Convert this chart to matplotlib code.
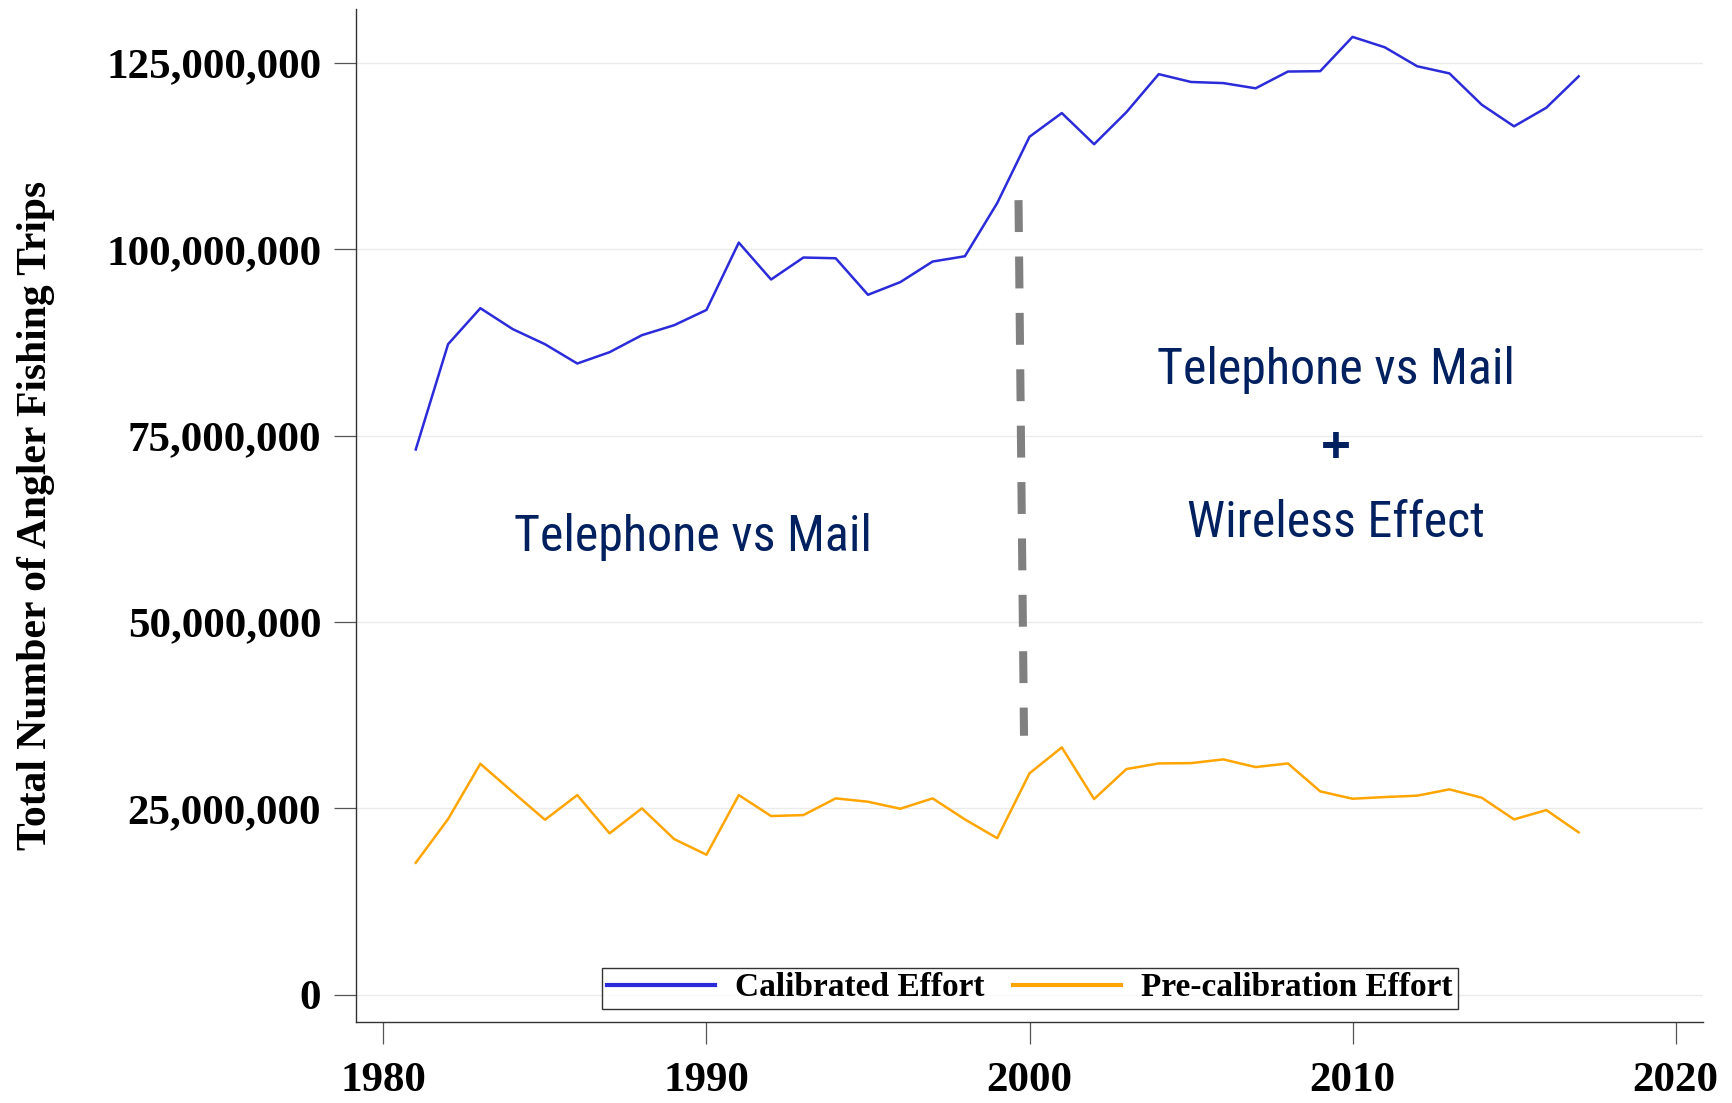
import matplotlib
matplotlib.use("Agg")
import matplotlib.pyplot as plt
from matplotlib import font_manager as fm
from matplotlib.ticker import FuncFormatter

# ---------------- data ----------------
years = list(range(1981, 2018))
calibrated_effort = [
    73.15e6, 87.27e6, 92.10e6, 89.30e6, 87.27e6, 84.68e6, 86.20e6, 88.48e6,
    89.82e6, 91.87e6, 100.90e6, 95.95e6, 98.90e6, 98.80e6, 93.90e6, 95.60e6,
    98.36e6, 99.07e6, 106.20e6, 115.10e6, 118.28e6, 114.10e6, 118.40e6,
    123.50e6, 122.45e6, 122.30e6, 121.60e6, 123.85e6, 123.90e6, 128.50e6,
    127.10e6, 124.56e6, 123.60e6, 119.40e6, 116.50e6, 119.00e6, 123.20e6,
]
precalibration_effort = [
    17.70e6, 23.56e6, 30.98e6, 27.20e6, 23.47e6, 26.78e6, 21.65e6, 25.00e6,
    20.88e6, 18.78e6, 26.78e6, 23.97e6, 24.10e6, 26.34e6, 25.89e6, 24.95e6,
    26.34e6, 23.52e6, 21.00e6, 29.70e6, 33.18e6, 26.25e6, 30.27e6, 31.03e6,
    31.07e6, 31.57e6, 30.54e6, 31.03e6, 27.28e6, 26.29e6, 26.52e6, 26.70e6,
    27.55e6, 26.43e6, 23.52e6, 24.77e6, 21.78e6,
]
series_labels = ["Calibrated Effort", "Pre-calibration Effort"]
y_ticks = [0, 25e6, 50e6, 75e6, 100e6, 125e6]
x_ticks = [1980, 1990, 2000, 2010, 2020]
divider_x = [1999.66, 1999.83]
divider_y = [106.6e6, 34.74e6]
left_note = "Telephone vs Mail"
right_note_lines = ["Telephone vs Mail", "+", "Wireless Effect"]
y_label = "Total Number of Angler Fishing Trips"

# ---------------- fonts ----------------
names = {f.name for f in fm.fontManager.ttflist}
ann_font, ann_size = "Liberation Sans", 31
for cand in ["Liberation Sans Narrow", "Arial Narrow", "Nimbus Sans Narrow",
             "Roboto Condensed", "Open Sans Condensed"]:
    if cand in names:
        ann_font, ann_size = cand, 36
        break
serif = ["Liberation Serif", "DejaVu Serif"]

# ---------------- figure ----------------
fig = plt.figure(figsize=(17.33, 11.03), dpi=100)
ax = fig.add_axes([356 / 1733, 1 - 1022 / 1103, (1703 - 356) / 1733, (1022 - 9.3) / 1103])

blue = "#2b2bd9"
orange = "#ffa500"
ax.plot(years, calibrated_effort, color=blue, lw=1.8, label=series_labels[0], zorder=3)
ax.plot(years, precalibration_effort, color=orange, lw=1.8, label=series_labels[1], zorder=3)

ax.plot(divider_x, divider_y, color="#808080", lw=5.8, dashes=(3.96, 3.04),
        solid_capstyle="butt", dash_capstyle="butt", zorder=2)

ax.set_xlim(1979.15, 2020.85)
ax.set_ylim(-3.66e6, 132.2e6)
ax.set_xticks(x_ticks)
ax.set_yticks(y_ticks)
ax.yaxis.set_major_formatter(FuncFormatter(lambda v, p: f"{v:,.0f}"))

ax.grid(axis="y", color="#ebebeb", lw=1.0, zorder=0)
ax.set_axisbelow(True)

for s in ["top", "right"]:
    ax.spines[s].set_visible(False)
for s in ["left", "bottom"]:
    ax.spines[s].set_color("#333333")
    ax.spines[s].set_linewidth(1.0)

ax.tick_params(axis="both", direction="out", length=15.6, width=0.9, color="#555555")
ax.tick_params(axis="x", pad=13)
ax.tick_params(axis="y", pad=9.5)
for lab in ax.get_xticklabels() + ax.get_yticklabels():
    lab.set_fontfamily(serif)
    lab.set_fontweight("bold")
    lab.set_fontsize(31)

ax.set_ylabel(y_label, fontfamily=serif, fontweight="bold", fontsize=30)
ax.yaxis.set_label_coords(-0.2235, 0.5)

note_color = "#002060"
ax.text(1989.59, 59.51e6, left_note, ha="center", va="baseline",
        fontfamily=ann_font, fontsize=ann_size, color=note_color)
ax.text(2009.48, 81.9e6, right_note_lines[0], ha="center", va="baseline",
        fontfamily=ann_font, fontsize=ann_size, color=note_color)
ax.text(2009.48, 71.5e6, right_note_lines[1], ha="center", va="baseline",
        fontfamily="Liberation Sans", fontweight="bold", fontsize=37, color=note_color)
ax.text(2009.48, 61.35e6, right_note_lines[2], ha="center", va="baseline",
        fontfamily=ann_font, fontsize=ann_size, color=note_color)

leg = ax.legend(loc="center", bbox_to_anchor=(1030 / 1733, 1 - 988 / 1103),
                bbox_transform=fig.transFigure, ncol=2, frameon=True, fancybox=False,
                prop={"family": serif, "weight": "bold", "size": 24},
                handlelength=3.25, handletextpad=0.6, columnspacing=0.85,
                borderpad=0.15, borderaxespad=0)
leg.get_frame().set_edgecolor("black")
leg.get_frame().set_linewidth(1.0)
for h in leg.get_lines():
    h.set_linewidth(3)

fig.savefig("out.png", dpi=100)
